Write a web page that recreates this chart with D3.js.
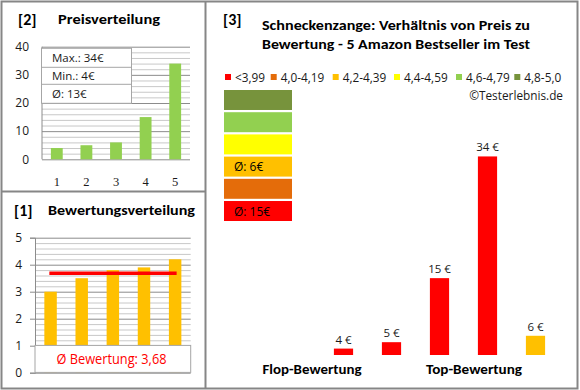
<!DOCTYPE html>
<html lang="de">
<head>
<meta charset="utf-8">
<title>Schneckenzange: Preis und Bewertung</title>
<script src="https://d3js.org/d3.v7.min.js"></script>
<style>
    body { margin: 0; background: #fff; }
    svg { display: block; font-family: "Open Sans", "Noto Sans", sans-serif; }
    .grid line { stroke: #c8c8c8; }
    .grid .major line { stroke: #8c8c8c; }
    .grid path { stroke: none; }
    .bold { font-weight: bold; font-family: Calibri, Carlito, Lato, sans-serif; }
</style>
</head>
<body>
<script>

// products, ordered from flop to top rating
var products = ["1", "2", "3", "4", "5"];
var prices = [4, 5, 15, 34, 6];
var ratings = [3.0, 3.5, 3.8, 3.9, 4.2];

// rating classes
var classLabels = ["<3,99", "4,0-4,19", "4,2-4,39", "4,4-4,59", "4,6-4,79", "4,8-5,0"];
var classColors = ["#ff0000", "#e46c0a", "#ffc000", "#ffff00", "#92d050", "#77933c"];
var classBreaks = [4.0, 4.2, 4.4, 4.6, 4.8];

var priceTicks = [0, 10, 20, 30, 40];
var ratingTicks = [0, 1, 2, 3, 4, 5];

var width = 580, height = 390;

var svg = d3.select("body").append("svg")
    .attr("width", width)
    .attr("height", height);

var ratingColor = d3.scaleThreshold().domain(classBreaks).range(classColors);

var sortedPrices = prices.slice().sort(d3.ascending);
var avgRating = d3.mean(ratings);

// ---------- panel frames ----------
var frame = svg.append("g").attr("fill", "none").attr("stroke", "#868686").attr("stroke-width", 2);
frame.append("rect").attr("x", 1.5).attr("y", 1.5).attr("width", 576).attr("height", 387);
frame.append("line").attr("x1", 205.5).attr("x2", 205.5).attr("y1", 1.5).attr("y2", 388.5);
frame.append("line").attr("x1", 1.5).attr("x2", 205.5).attr("y1", 191.5).attr("y2", 191.5);

function gridLines(g, scale, values, w, majors) {
    g.attr("class", "grid")
        .call(d3.axisLeft(scale).tickValues(values).tickSize(-w).tickFormat(""))
        .selectAll(".tick")
        .classed("major", function(d) { return majors.indexOf(d) >= 0; });
}

// ---------- [2] Preisverteilung ----------
var p2 = { left: 42, right: 190, top: 46.7, bottom: 159.3 };
var x2 = d3.scaleBand().domain(products).range([p2.left, p2.right]).paddingInner(0.6).paddingOuter(0.3);
var y2 = d3.scaleLinear().domain([0, 40]).range([p2.bottom, p2.top]);

svg.append("text").attr("class", "bold").attr("x", 18).attr("y", 25)
    .attr("font-size", 16).text("[2]");
svg.append("text").attr("class", "bold").attr("x", 58).attr("y", 24)
    .attr("font-size", 13.5).attr("textLength", 102).attr("lengthAdjust", "spacingAndGlyphs")
    .text("Preisverteilung");

svg.append("g").attr("transform", "translate(" + p2.left + ",0)")
    .call(gridLines, y2, d3.range(0, 41, 2), p2.right - p2.left, priceTicks);
svg.append("line").attr("x1", p2.left).attr("x2", p2.left)
    .attr("y1", p2.top).attr("y2", p2.bottom).attr("stroke", "#8c8c8c");

svg.append("g").selectAll("rect")
    .data(sortedPrices)
    .join("rect")
    .attr("x", function(d, i) { return x2(products[i]); })
    .attr("y", function(d) { return y2(d); })
    .attr("width", x2.bandwidth())
    .attr("height", function(d) { return p2.bottom - y2(d); })
    .attr("fill", "#92d050");

svg.append("g").selectAll("text")
    .data(priceTicks)
    .join("text")
    .attr("x", 29).attr("y", function(d) { return y2(d); })
    .attr("dy", "0.35em").attr("text-anchor", "end").attr("font-size", 12)
    .attr("fill", "#1a1a1a")
    .text(function(d) { return d; });

svg.append("g").selectAll("text")
    .data(products)
    .join("text")
    .attr("x", function(d) { return x2(d) + x2.bandwidth() / 2; })
    .attr("y", 185.5).attr("text-anchor", "middle")
    .attr("font-family", "Liberation Serif, serif").attr("font-size", 12.5)
    .attr("fill", "#1a1a1a")
    .text(function(d) { return d; });

// stats box
var statLines = ["Max.: " + d3.max(prices) + "€", "Min.: " + d3.min(prices) + "€", "Ø: " + Math.round(d3.mean(prices)) + "€"];
var statRows = [48.3, 67.3, 84.3, 103.3];
var stats = svg.append("g");
stats.append("rect").attr("x", 41.5).attr("y", 48.3).attr("width", 90).attr("height", 55)
    .attr("fill", "#fff").attr("stroke", "#a6a6a6");
stats.selectAll("line").data([67.3, 84.3]).join("line")
    .attr("x1", 41.5).attr("x2", 131.5).attr("y1", function(d) { return d; }).attr("y2", function(d) { return d; })
    .attr("stroke", "#a6a6a6");
stats.selectAll("text").data(statLines).join("text")
    .attr("x", 52).attr("y", function(d, i) { return (statRows[i] + statRows[i + 1]) / 2; })
    .attr("dy", "0.35em").attr("font-size", 11.5).attr("fill", "#1a1a1a")
    .text(function(d) { return d; });

// ---------- [1] Bewertungsverteilung ----------
var p1 = { left: 35, right: 190.7, top: 237.7, bottom: 372.7 };
var x1 = d3.scaleBand().domain(products).range([p1.left, p1.right]).paddingInner(0.6).paddingOuter(0.3);
var y1 = d3.scaleLinear().domain([0, 5]).range([p1.bottom, p1.top]);

svg.append("text").attr("class", "bold").attr("x", 14).attr("y", 216)
    .attr("font-size", 16).text("[1]");
svg.append("text").attr("class", "bold").attr("x", 48).attr("y", 215)
    .attr("font-size", 13.5).attr("textLength", 147).attr("lengthAdjust", "spacingAndGlyphs")
    .text("Bewertungsverteilung");

svg.append("g").attr("transform", "translate(" + p1.left + ",0)")
    .call(gridLines, y1, d3.range(0, 5.01, 0.2).map(function(d) { return Math.round(d * 10) / 10; }),
        p1.right - p1.left, ratingTicks);

svg.append("g").attr("transform", "translate(" + p1.left + ",0)")
    .call(d3.axisLeft(y1).tickValues(ratingTicks).tickSize(5).tickFormat(""))
    .call(function(g) { g.selectAll("line,path").attr("stroke", "#8c8c8c"); });

svg.append("g").selectAll("rect")
    .data(ratings)
    .join("rect")
    .attr("x", function(d, i) { return x1(products[i]); })
    .attr("y", function(d) { return y1(d); })
    .attr("width", x1.bandwidth())
    .attr("height", function(d) { return p1.bottom - y1(d); })
    .attr("fill", "#ffc000");

// average rating line
svg.append("line")
    .attr("x1", x1(products[0]) + 5).attr("x2", x1(products[4]) + x1.bandwidth() / 2 + 1.5)
    .attr("y1", y1(avgRating)).attr("y2", y1(avgRating))
    .attr("stroke", "#ff0000").attr("stroke-width", 3.5);

svg.append("g").selectAll("text")
    .data(ratingTicks)
    .join("text")
    .attr("x", 22).attr("y", function(d) { return y1(d); })
    .attr("dy", "0.35em").attr("text-anchor", "end").attr("font-size", 12)
    .attr("fill", "#1a1a1a")
    .text(function(d) { return d; });

svg.append("rect").attr("x", p1.left).attr("y", y1(1) - 0.3)
    .attr("width", p1.right - p1.left).attr("height", p1.bottom - y1(1))
    .attr("fill", "#fff").attr("stroke", "#a6a6a6");
svg.append("text").attr("x", 111.5).attr("y", 363.5).attr("text-anchor", "middle")
    .attr("font-size", 14).attr("fill", "#ff0000")
    .attr("textLength", 110).attr("lengthAdjust", "spacingAndGlyphs")
    .text("Ø Bewertung: " + d3.format(".2f")(avgRating).replace(".", ","));

// ---------- [3] Preis zu Bewertung ----------
svg.append("text").attr("class", "bold").attr("x", 223).attr("y", 25)
    .attr("font-size", 16).text("[3]");
svg.append("text").attr("class", "bold").attr("x", 262).attr("y", 29.5)
    .attr("font-size", 13.5).attr("textLength", 268).attr("lengthAdjust", "spacingAndGlyphs")
    .text("Schneckenzange: Verhältnis von Preis zu");
svg.append("text").attr("class", "bold").attr("x", 262).attr("y", 48.5)
    .attr("font-size", 13.5).attr("textLength", 268).attr("lengthAdjust", "spacingAndGlyphs")
    .text("Bewertung - 5 Amazon Bestseller im Test");

// legend
var legendX = [225, 270.7, 332.7, 394, 456, 514.3];
var legend = svg.append("g").selectAll("g")
    .data(classLabels)
    .join("g")
    .attr("transform", function(d, i) { return "translate(" + legendX[i] + ",74)"; });
legend.append("rect").attr("width", 6).attr("height", 6)
    .attr("fill", function(d, i) { return classColors[i]; });
legend.append("text").attr("x", 10).attr("y", 7.5).attr("font-size", 11.8).attr("fill", "#1a1a1a")
    .text(function(d) { return d; });

svg.append("text").attr("x", 563).attr("y", 100).attr("text-anchor", "end")
    .attr("font-size", 11.8).attr("fill", "#1a1a1a").text("©Testerlebnis.de");

// color blocks with average price per class
var blockOrder = classColors.slice().reverse();
var yb = d3.scaleBand().domain(d3.range(blockOrder.length)).range([90, 221]).paddingInner(0.1);
var blocks = svg.append("g").selectAll("g")
    .data(blockOrder)
    .join("g")
    .attr("transform", function(d, i) { return "translate(224," + yb(i) + ")"; });
blocks.append("rect").attr("width", 68).attr("height", yb.bandwidth())
    .attr("fill", function(d) { return d; });
blocks.append("text").attr("x", 10).attr("y", yb.bandwidth() / 2).attr("dy", "0.38em")
    .attr("font-size", 12).attr("fill", "#000")
    .text(function(c) {
        var p = prices.filter(function(v, i) { return ratingColor(ratings[i]) === c; });
        return p.length ? "Ø: " + Math.round(d3.mean(p)) + "€" : "";
    });

// main bars
var x3 = d3.scaleBand().domain(products).range([319.5, 559.5]).paddingInner(0.6).paddingOuter(0.3);
var y3 = d3.scaleLinear().domain([3, 40]).range([355, 118]);

svg.append("g").selectAll("rect")
    .data(prices)
    .join("rect")
    .attr("x", function(d, i) { return x3(products[i]); })
    .attr("y", function(d) { return y3(d); })
    .attr("width", x3.bandwidth())
    .attr("height", function(d) { return 355 - y3(d); })
    .attr("fill", function(d, i) { return ratingColor(ratings[i]); });

svg.append("g").selectAll("text")
    .data(prices)
    .join("text")
    .attr("x", function(d, i) { return x3(products[i]) + x3.bandwidth() / 2; })
    .attr("y", function(d) { return y3(d) - 5; })
    .attr("text-anchor", "middle").attr("font-size", 11.5).attr("fill", "#1a1a1a")
    .text(function(d) { return d + " €"; });

svg.append("text").attr("class", "bold").attr("x", 312).attr("y", 373.5).attr("text-anchor", "middle")
    .attr("font-size", 14).attr("textLength", 99).attr("lengthAdjust", "spacingAndGlyphs")
    .text("Flop-Bewertung");
svg.append("text").attr("class", "bold").attr("x", 474).attr("y", 373.5).attr("text-anchor", "middle")
    .attr("font-size", 14).attr("textLength", 96).attr("lengthAdjust", "spacingAndGlyphs")
    .text("Top-Bewertung");

</script>
</body>
</html>
